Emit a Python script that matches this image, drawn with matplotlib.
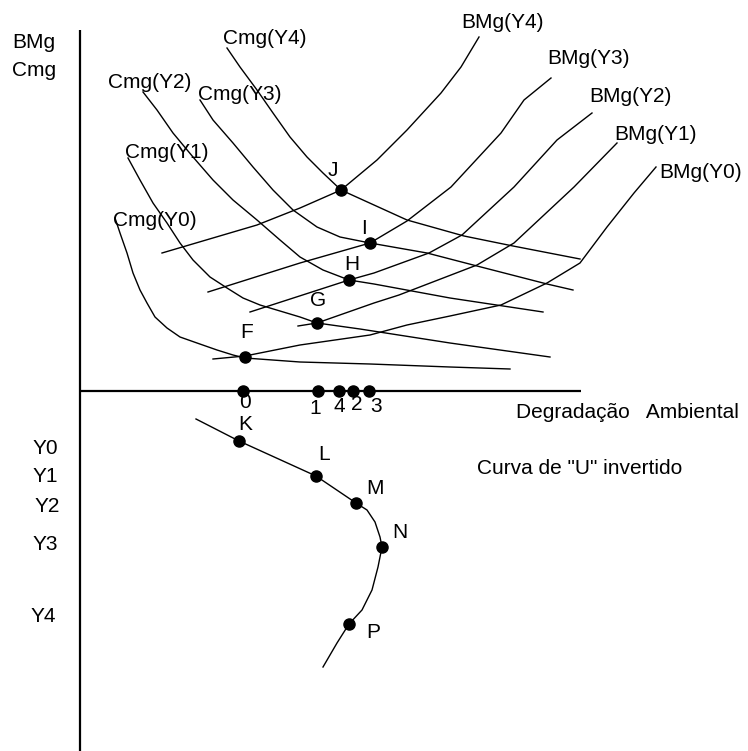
import matplotlib
matplotlib.use("Agg")
import matplotlib.pyplot as plt

plt.rcParams['font.family'] = ['Liberation Sans', 'DejaVu Sans']

# ---- Diagram data (pixel-space coordinates) ----
cmg_names = ["Cmg(Y0)", "Cmg(Y1)", "Cmg(Y2)", "Cmg(Y3)", "Cmg(Y4)"]
cmg_x = [
    [115, 120, 127, 133, 140, 147, 155, 167, 180, 197, 217, 233, 245, 300, 370, 450, 510],
    [128, 140, 153, 167, 180, 193, 210, 227, 243, 260, 280, 300, 317, 360, 450, 550],
    [143, 157, 173, 193, 213, 233, 257, 280, 300, 323, 349, 374, 450, 543],
    [200, 213, 233, 253, 273, 293, 317, 340, 370, 427, 477, 547, 573],
    [227, 240, 257, 273, 290, 307, 323, 341, 374, 407, 464, 513, 580],
]
cmg_y = [
    [218, 233, 253, 273, 290, 303, 317, 328, 337, 343, 350, 355, 358, 362, 364, 367, 369],
    [158, 180, 203, 223, 243, 260, 277, 288, 298, 305, 311, 317, 323, 329, 343, 357],
    [92, 110, 133, 157, 180, 200, 220, 240, 257, 270, 280, 284, 298, 312],
    [100, 120, 143, 167, 190, 210, 227, 237, 243, 253, 266, 284, 290],
    [48, 67, 90, 113, 137, 157, 173, 190, 205, 220, 236, 246, 259],
]
cmg_label_pos = [(113, 220), (125, 152), (108, 82), (198, 95), (223, 38)]

bmg_names = ["BMg(Y0)", "BMg(Y1)", "BMg(Y2)", "BMg(Y3)", "BMg(Y4)"]
bmg_x = [
    [213, 245, 300, 370, 407, 450, 501, 547, 580, 607, 634, 656],
    [298, 317, 374, 399, 477, 514, 574, 617],
    [250, 349, 374, 429, 462, 514, 557, 592],
    [208, 300, 370, 407, 451, 501, 524, 551],
    [162, 257, 300, 341, 377, 407, 441, 461, 479],
]
bmg_y = [
    [359, 356, 345, 335, 325, 316, 305, 283, 263, 227, 193, 167],
    [326, 323, 303, 295, 265, 243, 187, 143],
    [312, 280, 273, 253, 235, 187, 140, 113],
    [292, 263, 243, 221, 187, 133, 100, 78],
    [253, 225, 208, 190, 160, 130, 93, 67, 37],
]
bmg_label_pos = [(659, 172), (614, 135), (589, 97), (547, 58), (461, 23)]

# equilibrium points
eq_names = ["F", "G", "H", "I", "J"]
eq_x = [245, 317, 349, 370, 341]
eq_y = [357, 323, 280, 243, 190]
eq_label_pos = [(247, 333), (318, 300), (352, 265), (364, 228), (333, 170)]

# degradation levels on the horizontal axis
deg_labels = ["0", "1", "4", "2", "3"]
deg_x = [243, 318, 339, 353, 369]
deg_label_x = [245, 315, 339, 357, 376]
deg_label_y = [402, 408, 407, 405, 406]

# inverted-U curve
u_x = [196, 239, 316, 356, 367, 375, 380, 382, 378, 372, 362, 349, 337, 323]
u_y = [419, 441, 476, 503, 510, 522, 537, 547, 567, 590, 610, 624, 643, 667]
u_pt_names = ["K", "L", "M", "N", "P"]
u_pt_x = [239, 316, 356, 382, 349]
u_pt_y = [441, 476, 503, 547, 624]
u_label_pos = [(245, 424), (324, 455), (375, 489), (400, 533), (373, 633)]

income_labels = ["Y0", "Y1", "Y2", "Y3", "Y4"]
income_pos = [(45, 449), (45, 477), (47, 507), (45, 544), (43, 616)]

FS = 15

fig = plt.figure(figsize=(7.48, 7.51), dpi=100)
ax = fig.add_axes([0, 0, 1, 1])
ax.set_xlim(0, 748)
ax.set_ylim(751, 0)
ax.axis('off')

# axes
ax.plot([80, 80], [30, 751], color='black', lw=1.6, solid_capstyle='butt')
ax.plot([80, 581], [391, 391], color='black', lw=1.6, solid_capstyle='butt')

for xs, ys, name, (lx, ly) in zip(cmg_x, cmg_y, cmg_names, cmg_label_pos):
    ax.plot(xs, ys, color='black', lw=1.0)
    ax.text(lx, ly, name, ha='left', va='center', fontsize=FS)

for xs, ys, name, (lx, ly) in zip(bmg_x, bmg_y, bmg_names, bmg_label_pos):
    ax.plot(xs, ys, color='black', lw=1.0)
    ax.text(lx, ly, name, ha='left', va='center', fontsize=FS)

ax.plot(eq_x, eq_y, 'o', color='black', ms=8, ls='none')
for name, (lx, ly) in zip(eq_names, eq_label_pos):
    ax.text(lx, ly, name, ha='center', va='center', fontsize=FS)

ax.plot(deg_x, [391] * len(deg_x), 'o', color='black', ms=8, ls='none')
for lab, lx, ly in zip(deg_labels, deg_label_x, deg_label_y):
    ax.text(lx, ly, lab, ha='center', va='center', fontsize=FS)

ax.plot(u_x, u_y, color='black', lw=1.0)
ax.plot(u_pt_x, u_pt_y, 'o', color='black', ms=8, ls='none')
for name, (lx, ly) in zip(u_pt_names, u_label_pos):
    ax.text(lx, ly, name, ha='center', va='center', fontsize=FS)

for lab, (lx, ly) in zip(income_labels, income_pos):
    ax.text(lx, ly, lab, ha='center', va='center', fontsize=FS)

ax.text(12, 43, "BMg", ha='left', va='center', fontsize=FS)
ax.text(12, 70, "Cmg", ha='left', va='center', fontsize=FS)
ax.text(516, 413, "Degradação   Ambiental", ha='left', va='center', fontsize=FS)
ax.text(477, 469, "Curva de \"U\" invertido", ha='left', va='center', fontsize=FS)

fig.savefig("out.png", dpi=100, facecolor='white')
